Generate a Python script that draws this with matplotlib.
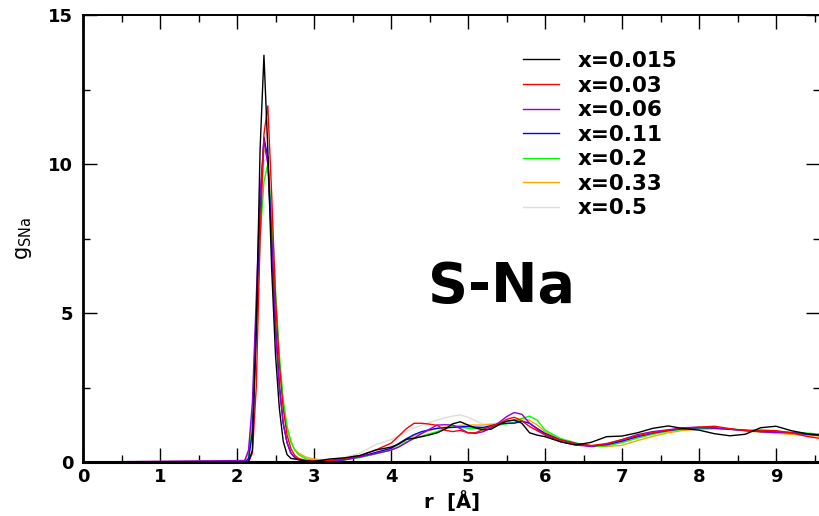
import numpy as np
import matplotlib
matplotlib.use('Agg')
from matplotlib import pyplot as plt
from matplotlib.ticker import MultipleLocator

###############################################################################
# Data read off the S-Na partial g(r) picture
###############################################################################

# shared r grid [Angstrom]
r = [0.0, 2.1, 2.15, 2.2, 2.25, 2.3, 2.35, 2.4, 2.45, 2.5, 2.55, 2.6, 2.65,
     2.7, 2.75, 2.8, 2.9, 3.0,
     3.2, 3.4, 3.6, 3.8, 4.0, 4.1, 4.2, 4.3, 4.4, 4.5, 4.6, 4.7, 4.8, 4.9,
     5.0, 5.1, 5.2, 5.3, 5.4, 5.5, 5.6, 5.7, 5.8, 5.9, 6.0, 6.2, 6.4, 6.6,
     6.8, 7.0, 7.2, 7.4, 7.6, 7.8, 8.0, 8.2, 8.4, 8.6, 8.8, 9.0, 9.2, 9.4, 9.6]

g_0015 = [0.0, 0.0, 0.0, 0.4, 4.5, 10.5, 13.65, 10.5, 6.5, 3.6, 1.8, 0.7, 0.25,
          0.12, 0.1, 0.08, 0.03, 0.02,
          0.1, 0.14, 0.22, 0.4, 0.5, 0.6, 0.76, 0.8, 0.85, 0.91, 0.98, 1.1, 1.28, 1.35,
          1.24, 1.14, 1.08, 1.1, 1.25, 1.37, 1.41, 1.3, 0.98, 0.9, 0.85, 0.68, 0.57, 0.66,
          0.85, 0.87, 0.98, 1.13, 1.21, 1.12, 1.07, 0.95, 0.88, 0.93, 1.15, 1.2, 1.05, 0.95, 0.9]

g_003 = [0.0, 0.0, 0.0, 0.3, 2.5, 7.5, 11.0, 11.95, 9.0, 5.5, 3.3, 1.8, 0.9,
         0.45, 0.22, 0.12, 0.05, 0.03,
         0.05, 0.12, 0.22, 0.4, 0.63, 0.87, 1.12, 1.3, 1.3, 1.27, 1.23, 1.07, 1.02, 1.06,
         0.98, 0.98, 1.1, 1.2, 1.28, 1.43, 1.5, 1.38, 1.19, 1.05, 0.91, 0.74, 0.62, 0.55,
         0.62, 0.75, 0.88, 0.98, 1.07, 1.13, 1.17, 1.2, 1.12, 1.05, 1.07, 1.05, 0.98, 0.86, 0.78]

g_006 = [0.0, 0.05, 0.4, 2.0, 5.5, 9.0, 10.8, 10.0, 7.3, 4.5, 2.5, 1.3, 0.65,
         0.3, 0.15, 0.08, 0.04, 0.02,
         0.03, 0.08, 0.17, 0.28, 0.4, 0.5, 0.65, 0.8, 0.96, 1.1, 1.24, 1.25, 1.24, 1.12,
         0.98, 0.96, 1.02, 1.15, 1.32, 1.52, 1.66, 1.6, 1.3, 1.1, 0.91, 0.68, 0.57, 0.52,
         0.6, 0.75, 0.92, 1.02, 1.08, 1.15, 1.17, 1.15, 1.1, 1.06, 1.02, 1.0, 0.98, 0.94, 0.88]

g_011 = [0.0, 0.0, 0.1, 1.0, 4.5, 8.5, 10.9, 10.2, 7.5, 4.6, 2.6, 1.3, 0.65,
         0.3, 0.15, 0.08, 0.04, 0.02,
         0.03, 0.08, 0.18, 0.32, 0.46, 0.62, 0.78, 0.92, 1.02, 1.08, 1.13, 1.15, 1.16, 1.18,
         1.19, 1.17, 1.16, 1.22, 1.28, 1.3, 1.3, 1.37, 1.3, 1.12, 0.96, 0.74, 0.62, 0.54,
         0.58, 0.7, 0.85, 0.97, 1.06, 1.12, 1.15, 1.14, 1.1, 1.06, 1.02, 1.0, 0.98, 0.93, 0.88]

g_02 = [0.0, 0.0, 0.15, 1.2, 4.2, 7.5, 9.4, 10.0, 8.3, 5.8, 3.6, 2.1, 1.2,
        0.7, 0.4, 0.25, 0.1, 0.05,
        0.03, 0.07, 0.15, 0.27, 0.4, 0.52, 0.68, 0.78, 0.87, 0.95, 1.02, 1.12, 1.18, 1.17,
        1.13, 1.12, 1.13, 1.18, 1.24, 1.28, 1.34, 1.46, 1.54, 1.4, 1.07, 0.79, 0.64, 0.52,
        0.54, 0.65, 0.8, 0.93, 1.03, 1.1, 1.13, 1.12, 1.1, 1.08, 1.05, 1.03, 1.0, 0.97, 0.93]

g_033 = [0.0, 0.03, 0.3, 1.6, 5.0, 8.5, 10.5, 10.2, 8.0, 5.4, 3.3, 1.9, 1.1,
         0.65, 0.42, 0.3, 0.16, 0.1,
         0.05, 0.1, 0.18, 0.3, 0.43, 0.6, 0.75, 0.88, 0.96, 1.06, 1.13, 1.17, 1.21, 1.23,
         1.24, 1.24, 1.24, 1.26, 1.28, 1.35, 1.41, 1.46, 1.4, 1.24, 1.02, 0.76, 0.63, 0.55,
         0.52, 0.56, 0.72, 0.86, 0.98, 1.06, 1.1, 1.12, 1.1, 1.05, 1.0, 0.96, 0.93, 0.9, 0.86]

g_05 = [0.0, 0.03, 0.3, 1.5, 4.8, 8.3, 10.1, 10.2, 8.0, 5.5, 3.4, 2.0, 1.15,
        0.65, 0.4, 0.26, 0.12, 0.07,
        0.08, 0.16, 0.3, 0.58, 0.75, 0.88, 1.02, 1.14, 1.24, 1.33, 1.41, 1.48, 1.54, 1.58,
        1.5, 1.38, 1.27, 1.28, 1.31, 1.36, 1.41, 1.4, 1.3, 1.12, 0.98, 0.76, 0.63, 0.55,
        0.58, 0.7, 0.85, 0.97, 1.05, 1.1, 1.13, 1.13, 1.1, 1.06, 1.02, 1.0, 0.97, 0.93, 0.89]

labels = ['x=0.015', 'x=0.03', 'x=0.06', 'x=0.11', 'x=0.2', 'x=0.33', 'x=0.5']
series = [g_0015, g_003, g_006, g_011, g_02, g_033, g_05]
colors = ['black', '#ff0000', '#9400d3', '#0000ff', '#00ff00', '#ffa500', '#dcdcdc']

###############################################################################
# Plotting
###############################################################################

plt.rcParams.update({'font.family': 'DejaVu Sans',
                     'font.weight': 'bold',
                     'mathtext.default': 'regular'})

fig = plt.figure(figsize=(8.19, 5.16), dpi=100)
ax = fig.add_axes([83/819, 1 - 462/516, 737/819, 447/516])

# draw back to front so black ends up on top
for g, c, lab in reversed(list(zip(series, colors, labels))):
    ax.plot(r, g, color=c, lw=1.0, label=lab)

ax.set_xlim(0, 737/77)
ax.set_ylim(0, 15)

ax.xaxis.set_major_locator(MultipleLocator(1))
ax.xaxis.set_minor_locator(MultipleLocator(0.5))
ax.yaxis.set_major_locator(MultipleLocator(5))
ax.yaxis.set_minor_locator(MultipleLocator(2.5))
ax.tick_params(which='both', direction='in', top=True, right=True,
               labelsize=13, width=1.0)
ax.tick_params(which='major', length=10)
ax.tick_params(which='minor', length=5)
ax.tick_params(axis='x', pad=4)
ax.tick_params(axis='y', pad=7)

ax.spines['left'].set_linewidth(2.0)
ax.spines['bottom'].set_linewidth(2.2)
ax.spines['top'].set_linewidth(1.4)
ax.spines['right'].set_linewidth(1.4)

ax.set_xlabel('r  [\u00c5]', fontsize=14, fontweight='bold', labelpad=4)
ax.set_ylabel(r'$g_{SNa}$', fontsize=15, fontweight='normal', labelpad=10)

ax.text(5.44, 5.87, 'S-Na', fontsize=40, fontweight='bold',
        ha='center', va='center')

h, l = ax.get_legend_handles_labels()
ax.legend(h[::-1], l[::-1], loc='upper left',
          bbox_to_anchor=((523 - 83)/737, (462 - 51)/447),
          frameon=False, fontsize=15.5, borderpad=0, borderaxespad=0,
          handlelength=1.67, handletextpad=0.88, labelspacing=0.21)

fig.savefig('out.png', dpi=100)
